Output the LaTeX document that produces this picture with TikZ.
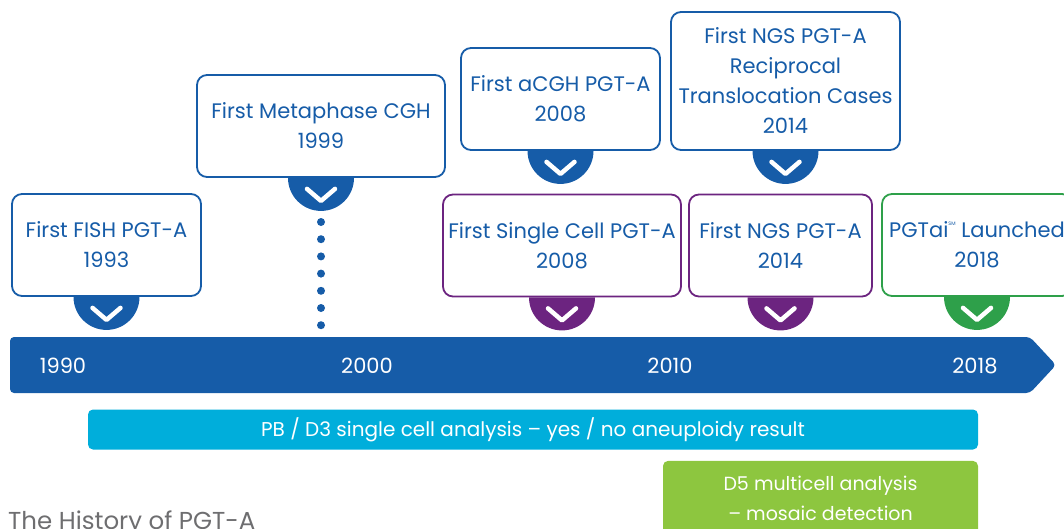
\documentclass[tikz,border=0pt]{standalone}
\usepackage{fontspec}
\setmainfont{Poppins}
\usetikzlibrary{positioning}
\usetikzlibrary{calc}
\definecolor{pgtblue}{RGB}{22,92,168}
\definecolor{pgtpurple}{RGB}{108,36,128}
\definecolor{pgtgreen}{RGB}{46,160,74}
\definecolor{pgtcyan}{RGB}{0,174,219}
\definecolor{pgtlime}{RGB}{141,198,63}
\definecolor{pgtgray}{RGB}{110,110,112}
\tikzstyle{event}=[draw=pgtblue,line width=1.8pt,rounded corners=10pt,fill=white,text=pgtblue,align=center,minimum height=102pt,inner sep=0pt]
\tikzstyle{year}=[text=white,font=\fontsize{21}{24}\selectfont]
\tikzstyle{band}=[rounded corners=5pt,text=white,align=center,inner sep=0pt]
\newcommand{\badge}[2]{%
  \fill[#2] ($(#1.south)+(-33pt,0pt)$) arc (180:360:33pt) -- cycle;
  \draw[white,line width=4.5pt,line cap=round,line join=round] ($(#1.south)+(-14pt,-11pt)$) -- ++(14pt,-12pt) -- ++(14pt,12pt);}

\begin{document}
\begin{tikzpicture}
	[x=1pt,y=-1pt,font=\fontsize{21}{30}\selectfont]
	\useasboundingbox (0,0) rectangle (1064,528);
	
	\fill[pgtblue,rounded corners=4pt] (10,337) -- (1030,337) -- (1056,365) -- (1030,393) -- (10,393) -- cycle;
	\node[year] (y1990) at (63,366) {1990};
	\node[year] (y2000) at (367,366) {2000};
	\node[year] (y2010) at (670,366) {2010};
	\node[year] (y2018) at (975,366) {2018};
	
	\node (fish) [event,minimum width=189pt] at (106.5,245) {First FISH PGT-A\\1993};
	\node (cgh) [event,minimum width=248pt] at (321,126) {First Metaphase CGH\\1999};
	\node (acgh) [event,minimum width=199pt] at (560.5,99) {First aCGH PGT-A\\2008};
	\node (ngsrt) [event,minimum width=229pt,minimum height=138pt] at (785.5,81) {First NGS PGT-A\\Reciprocal\\Translocation Cases\\2014};
	\node (single) [event,draw=pgtpurple,minimum width=238pt] at (562,245.5) {First Single Cell PGT-A\\2008};
	\node (ngs) [event,draw=pgtpurple,minimum width=183pt] at (780.5,245.5) {First NGS PGT-A\\2014};
	\node (pgtai) [event,draw=pgtgreen,minimum width=190pt] at (977,245) {PGTai\raisebox{1.1ex}{\fontsize{5}{5}\selectfont SM} Launched\\2018};
	
	\badge{fish}{pgtblue}
	\badge{cgh}{pgtblue}
	\badge{acgh}{pgtblue}
	\badge{ngsrt}{pgtblue}
	\badge{single}{pgtpurple}
	\badge{ngs}{pgtpurple}
	\badge{pgtai}{pgtgreen}
	
	\coordinate (dottop) at (321,222);
	\coordinate (dotend) at (321,326);
	\draw[pgtblue,line width=8pt,line cap=round,dash pattern=on 0pt off 17.2pt] (dottop) -- (dotend);
	
	\node (pb) [band,fill=pgtcyan,minimum width=890pt,minimum height=40pt,font=\fontsize{20}{30}\selectfont] at (533,429.5) {PB / D3 single cell analysis -- yes / no aneuploidy result};
	\node (d5) [band,fill=pgtlime,minimum width=315pt,minimum height=74pt,font=\fontsize{19}{30}\selectfont,below=11pt of pb.south east,anchor=north east] {D5 multicell analysis\\-- mosaic detection};
	
	\node (title) [anchor=north west,text=pgtgray,font=\fontsize{24.5}{30}\selectfont,inner sep=0pt] at (8,511) {The History of PGT-A};
\end{tikzpicture}
\end{document}
